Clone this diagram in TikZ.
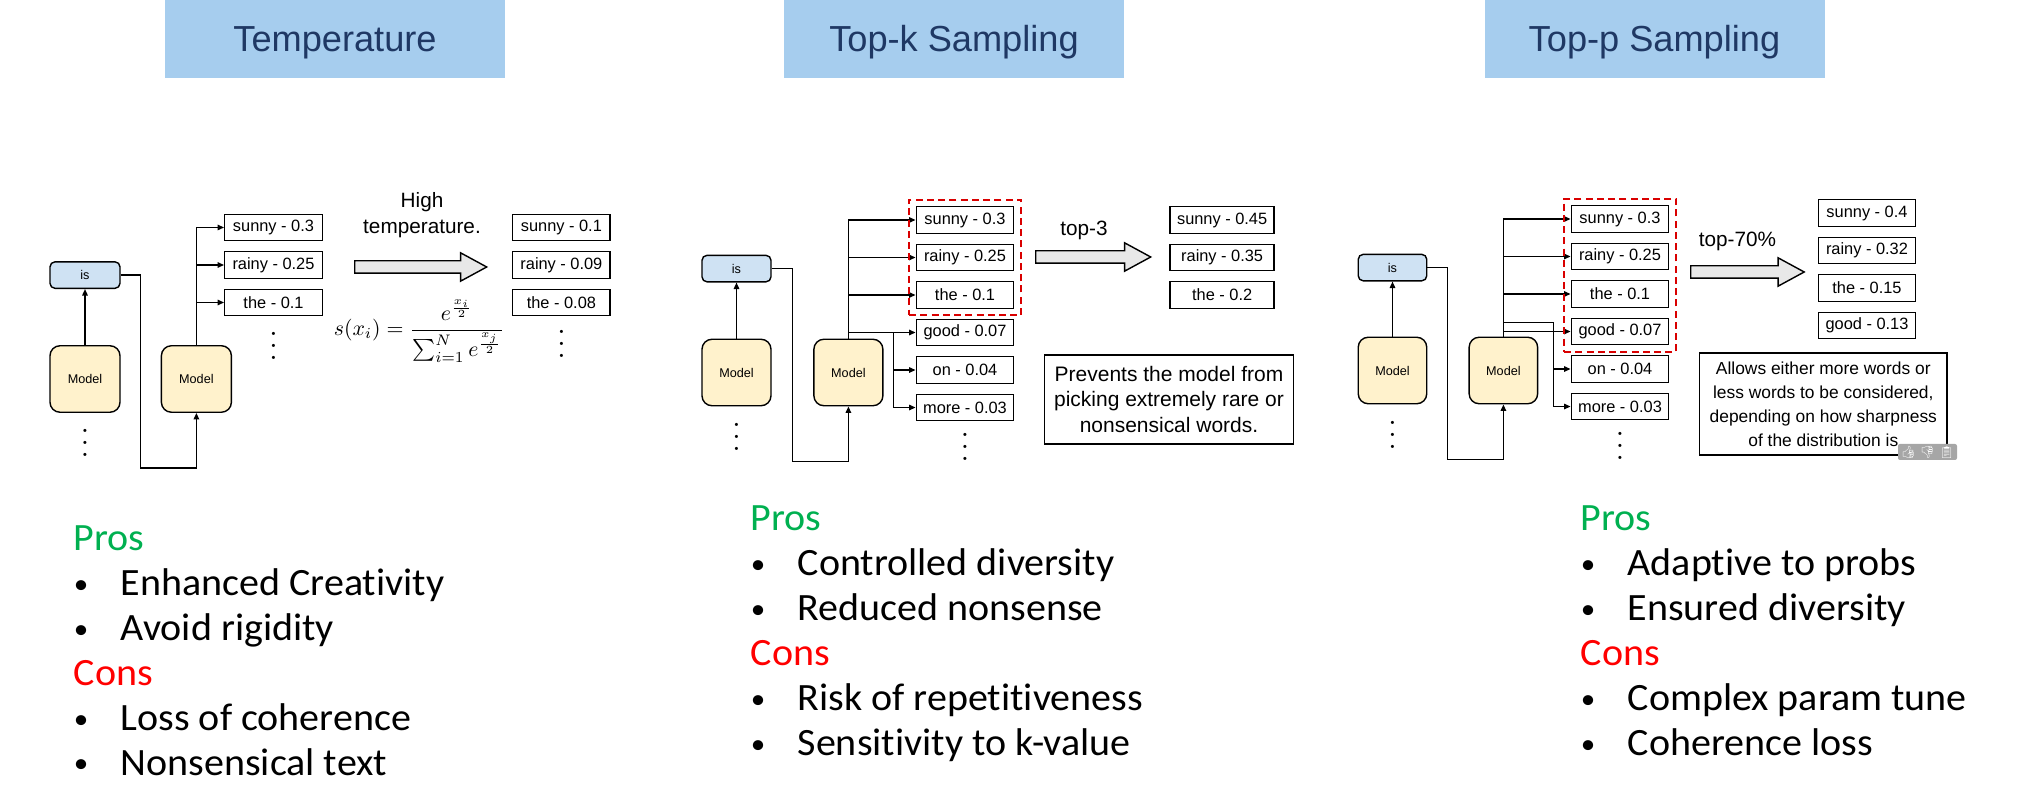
\documentclass[tikz,border=0pt]{standalone}
\usepackage[no-math]{fontspec}
\newfontfamily\diagfont{Liberation Sans}
\newfontfamily\listfont[FakeStretch=1.035,Ligatures=NoCommon]{Carlito}
\newfontfamily\emojifont{Noto Emoji}
\usetikzlibrary{arrows.meta,shapes,positioning,fit}
\definecolor{headblue}{HTML}{A6CDEE}
\definecolor{titleblue}{HTML}{1F3864}
\definecolor{modelyellow}{HTML}{FFF2CC}
\definecolor{isblue}{HTML}{CFE2F3}
\definecolor{bigarrow}{HTML}{E8E8E8}
\definecolor{prosgreen}{HTML}{00B050}
\tikzset{
  headbox/.style={fill=headblue, text=titleblue, minimum width=3.4cm, minimum height=0.78cm, text height=0.26cm, text depth=0pt, font=\diagfont\fontsize{10.3}{12}\selectfont},
  modelbox/.style={draw, fill=modelyellow, line width=0.4pt, rounded corners=0.1cm, minimum width=0.7cm, minimum height=0.665cm, inner sep=0pt, font=\diagfont\fontsize{3.6}{4}\selectfont},
  isbox/.style={draw, fill=isblue, line width=0.4pt, rounded corners=0.05cm, minimum width=0.7cm, minimum height=0.265cm, inner sep=0pt, font=\diagfont\fontsize{3.6}{4}\selectfont},
  wordbox/.style={draw, line width=0.4pt, minimum width=0.975cm, minimum height=0.265cm, inner sep=0pt, font=\diagfont\fontsize{4.66}{5}\selectfont},
  wire/.style={-{Triangle[length=0.065cm,width=0.055cm]}, line width=0.4pt},
  bigarrownode/.style={draw, fill=bigarrow, shape=single arrow, line width=0.4pt, single arrow tip angle=57, single arrow head extend=0.08cm, inner sep=0.055cm, minimum height=1.32cm, anchor=tail},
  toplabel/.style={font=\diagfont\fontsize{5.9}{7.4}\selectfont, align=center, inner sep=0pt},
  notebox/.style={draw, line width=0.4pt, align=center, inner sep=0pt},
  moredots/.style={inner sep=0pt, scale=0.85, text height=9.06pt, text depth=0pt},
  keepbox/.style={draw=red!85!black, dash pattern=on 2pt off 1.2pt, line width=0.55pt},
  listhead/.style={anchor=west, inner sep=0pt, text height=0.26cm, text depth=0.09cm, font=\listfont\fontsize{11}{12}\selectfont},
  listitem/.style={listhead, label={[label distance=0.31cm, inner sep=0pt, font=\listfont\fontsize{8}{10}\selectfont]left:\textbullet}},
}
\begin{document}
\begin{tikzpicture}[node distance=0.096cm]
  \useasboundingbox (0,0) rectangle (20.25,-8.09);

  % temperature
  \node [headbox] (headA) at (3.35,-0.39) {Temperature};
  \node [modelbox] (modelA) at (0.85,-3.79) {Model};
  \node [modelbox, right=0.4cm of modelA] (modelAA) {Model};
  \node [isbox, above=0.56cm of modelA] (isA) {is};
  \node [wordbox] (sunnyA) at (2.735,-2.275) {sunny - 0.3};
  \node [wordbox, below=of sunnyA] (rainyA) {rainy - 0.25};
  \node [wordbox, below=of rainyA] (theA) {the - 0.1};
  \node [moredots, below=0.15cm of theA] (dotsA) {$\vdots$};
  \node [moredots, below=0.16cm of modelA] (dotsAA) {$\vdots$};
  \node [wordbox, right=1.89cm of sunnyA] (sunnyAR) {sunny - 0.1};
  \node [wordbox, below=of sunnyAR] (rainyAR) {rainy - 0.09};
  \node [wordbox, below=of rainyAR] (theAR) {the - 0.08};
  \node [moredots, below=0.13cm of theAR] (dotsAR) {$\vdots$};
  \node [bigarrownode] (arrowA) at (3.54,-2.67) {};
  \node [toplabel] (labelA) at (4.22,-2.155) {High\\temperature.};
  \node [inner sep=0pt, scale=0.62] (formulaA) at (4.19,-3.31) {$\displaystyle s(x_i)=\frac{e^{\frac{x_i}{2}}}{\sum_{i=1}^{N}e^{\frac{x_j}{2}}}$};

  \coordinate [below=0.55cm of modelAA] (loopA);
  \draw [wire] (modelA) -- (isA);
  \draw [wire] (isA.east) -- ++(0.2,0) |- (loopA) -- (modelAA);
  \draw [wire] (modelAA) |- (sunnyA);
  \draw [wire] (modelAA) |- (rainyA);
  \draw [wire] (modelAA) |- (theA);

  % top-k
  \begin{scope}[modelbox/.append style={minimum width=0.69cm}, isbox/.append style={minimum width=0.69cm}]
    \node [headbox] (headB) at (9.54,-0.39) {Top-k Sampling};
    \node [modelbox] (modelB) at (7.365,-3.725) {Model};
    \node [modelbox, right=0.415cm of modelB] (modelBB) {Model};
    \node [isbox, above=0.56cm of modelB] (isB) {is};
    \node [wordbox] (sunnyB) at (9.65,-2.20) {sunny - 0.3};
    \node [wordbox, below=of sunnyB] (rainyB) {rainy - 0.25};
    \node [wordbox, below=of rainyB] (theB) {the - 0.1};
    \node [wordbox, below=of theB] (goodB) {good - 0.07};
    \node [wordbox, below=of goodB] (onB) {on - 0.04};
    \node [wordbox, below=of onB] (moreB) {more - 0.03};
    \node [moredots, below=0.115cm of moreB] (dotsB) {$\vdots$};
    \node [moredots, below=0.16cm of modelB] (dotsBB) {$\vdots$};
    \node [wordbox, minimum width=1.04cm, right=1.55cm of sunnyB] (sunnyBR) {sunny - 0.45};
    \node [wordbox, minimum width=1.04cm, below=of sunnyBR] (rainyBR) {rainy - 0.35};
    \node [wordbox, minimum width=1.04cm, below=of rainyBR] (theBR) {the - 0.2};
  \end{scope}
  \node [bigarrownode, minimum height=1.15cm] (arrowB) at (10.35,-2.57) {};
  \node [toplabel] (labelB) at (10.84,-2.30) {top-3};
  \node [notebox, minimum width=2.49cm, minimum height=0.89cm, font=\diagfont\fontsize{5.97}{7.2}\selectfont] (noteB) at (11.69,-3.995)
    {Prevents the model from\\picking extremely rare or\\nonsensical words.};

  \coordinate [below=0.55cm of modelBB] (loopB);
  \coordinate [left=0.22cm of goodB.west] (forkB);
  \draw [wire] (modelB) -- (isB);
  \draw [wire] (isB.east) -- ++(0.21,0) |- (loopB) -- (modelBB);
  \draw [wire] (modelBB) |- (sunnyB);
  \draw [wire] (modelBB) |- (rainyB);
  \draw [wire] (modelBB) |- (theB);
  \draw [wire] (modelBB) |- (goodB);
  \draw [wire] (forkB) |- (onB);
  \draw [wire] (forkB) |- (moreB);
  \node [keepbox, fit=(sunnyB) (theB), inner sep=0.065cm] (keepB) {};

  % top-p
  \begin{scope}[modelbox/.append style={minimum width=0.685cm}, isbox/.append style={minimum width=0.685cm}]
    \node [headbox] (headC) at (16.545,-0.39) {Top-p Sampling};
    \node [modelbox] (modelC) at (13.925,-3.705) {Model};
    \node [modelbox, right=0.41cm of modelC] (modelCC) {Model};
    \node [isbox, above=0.55cm of modelC] (isC) {is};
    \node [wordbox] (sunnyC) at (16.2,-2.19) {sunny - 0.3};
    \node [wordbox, below=of sunnyC] (rainyC) {rainy - 0.25};
    \node [wordbox, below=of rainyC] (theC) {the - 0.1};
    \node [wordbox, below=of theC] (goodC) {good - 0.07};
    \node [wordbox, below=of goodC] (onC) {on - 0.04};
    \node [wordbox, below=of onC] (moreC) {more - 0.03};
    \node [moredots, below=0.11cm of moreC] (dotsC) {$\vdots$};
    \node [moredots, below=0.16cm of modelC] (dotsCC) {$\vdots$};
    \node [wordbox] (sunnyCR) at (18.67,-2.13) {sunny - 0.4};
    \node [wordbox, below=of sunnyCR] (rainyCR) {rainy - 0.32};
    \node [wordbox, below=of rainyCR] (theCR) {the - 0.15};
    \node [wordbox, below=of theCR] (goodCR) {good - 0.13};
  \end{scope}
  \node [bigarrownode, minimum height=1.135cm] (arrowC) at (16.9,-2.72) {};
  \node [toplabel] (labelC) at (17.375,-2.41) {top-70\%};
  \node [notebox, minimum width=2.474cm, minimum height=1.02cm, font=\diagfont\fontsize{4.95}{6.8}\selectfont] (noteC) at (18.233,-4.04)
    {Allows either more words or\\less words to be considered,\\depending on how sharpness\\of the distribution is};
  \node [fill=black!35, rounded corners=0.02cm, minimum width=0.59cm, minimum height=0.16cm, inner sep=0pt, text=white, font=\emojifont\fontsize{3.4}{4}\selectfont] (voteC) at (19.275,-4.52) {👍\,\,👎\,\,📋};

  \coordinate [below=0.55cm of modelCC] (loopC);
  \coordinate [above left=0.09cm and 0.17cm of goodC.west] (forkC);
  \draw [wire] (modelC) -- (isC);
  \draw [wire] (isC.east) -- ++(0.2,0) |- (loopC) -- (modelCC);
  \draw [wire] (modelCC) |- (sunnyC);
  \draw [wire] (modelCC) |- (rainyC);
  \draw [wire] (modelCC) |- (theC);
  \draw [wire] (modelCC) |- (goodC);
  \draw [line width=0.4pt] (modelCC.north) |- (forkC);
  \draw [wire] (forkC) |- (onC);
  \draw [wire] (forkC) |- (moreC);
  \node [keepbox, fit=(sunnyC) (goodC), inner sep=0.065cm] (keepC) {};

  % pros and cons
  \node [listhead, text=prosgreen] (prosA) at (0.73,-5.42) {Pros};
  \node [listitem, below right=0.085cm and 0.47cm of prosA.south west, anchor=north west] (itemAa) {Enhanced Creativity};
  \node [listitem, below=0.085cm of itemAa.south west, anchor=north west] (itemAb) {Avoid rigidity};
  \node [listhead, text=red, below left=0.085cm and 0.47cm of itemAb.south west, anchor=north west] (consA) {Cons};
  \node [listitem, below right=0.085cm and 0.47cm of consA.south west, anchor=north west] (itemAc) {Loss of coherence};
  \node [listitem, below=0.085cm of itemAc.south west, anchor=north west] (itemAd) {Nonsensical text};

  \node [listhead, text=prosgreen] (prosB) at (7.50,-5.225) {Pros};
  \node [listitem, below right=0.085cm and 0.47cm of prosB.south west, anchor=north west] (itemBa) {Controlled diversity};
  \node [listitem, below=0.085cm of itemBa.south west, anchor=north west] (itemBb) {Reduced nonsense};
  \node [listhead, text=red, below left=0.085cm and 0.47cm of itemBb.south west, anchor=north west] (consB) {Cons};
  \node [listitem, below right=0.085cm and 0.47cm of consB.south west, anchor=north west] (itemBc) {Risk of repetitiveness};
  \node [listitem, below=0.085cm of itemBc.south west, anchor=north west] (itemBd) {Sensitivity to k-value};

  \node [listhead, text=prosgreen] (prosC) at (15.80,-5.225) {Pros};
  \node [listitem, below right=0.085cm and 0.47cm of prosC.south west, anchor=north west] (itemCa) {Adaptive to probs};
  \node [listitem, below=0.085cm of itemCa.south west, anchor=north west] (itemCb) {Ensured diversity};
  \node [listhead, text=red, below left=0.085cm and 0.47cm of itemCb.south west, anchor=north west] (consC) {Cons};
  \node [listitem, below right=0.085cm and 0.47cm of consC.south west, anchor=north west] (itemCc) {Complex param tune};
  \node [listitem, below=0.085cm of itemCc.south west, anchor=north west] (itemCd) {Coherence loss};
\end{tikzpicture}
\end{document}
